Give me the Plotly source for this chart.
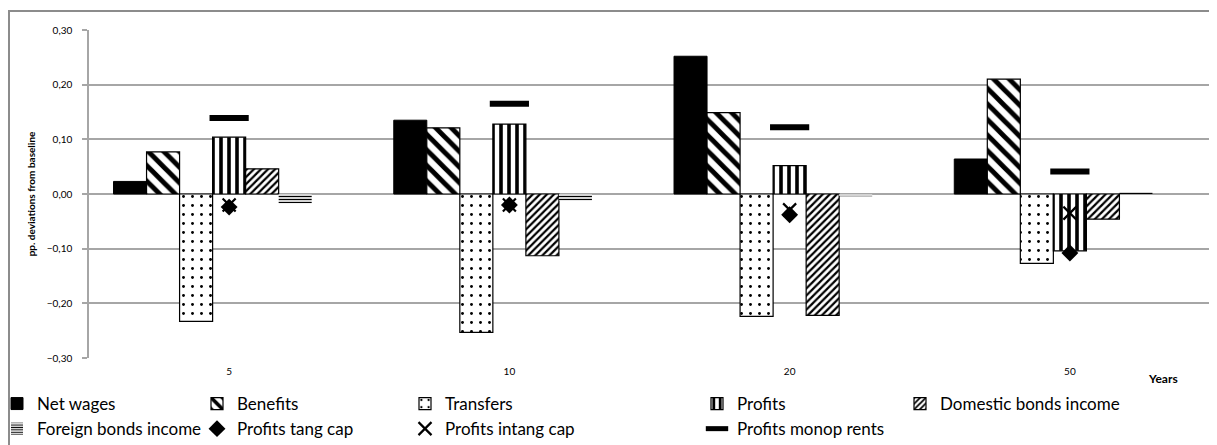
import plotly.graph_objects as go

# ---------------- data ----------------
years = ["5", "10", "20", "50"]
net_wages = [0.023, 0.135, 0.252, 0.064]
benefits = [0.077, 0.121, 0.149, 0.210]
transfers = [-0.233, -0.253, -0.224, -0.127]
profits = [0.104, 0.128, 0.052, -0.104]
domestic_bonds = [0.046, -0.113, -0.222, -0.046]
foreign_bonds = [-0.017, -0.012, -0.004, 0.002]
profits_tang_cap = [-0.024, -0.020, -0.038, -0.108]
profits_intang_cap = [-0.020, -0.020, -0.029, -0.035]
profits_monop_rents = [0.139, 0.165, 0.122, 0.041]

FONT = "Lato"
GRID = "#a6a6a6"

fig = go.Figure()

def pat_bar(name, y, shape, size, solidity, legend):
    return go.Bar(
        name=name, x=years, y=y, legend=legend,
        marker=dict(
            color="white",
            line=dict(color="black", width=1.2),
            pattern=dict(shape=shape, fgcolor="black", bgcolor="white",
                         size=size, solidity=solidity, fillmode="replace"),
        ),
    )

fig.add_trace(go.Bar(name="Net wages", x=years, y=net_wages, legend="legend",
                     marker=dict(color="black", line=dict(color="black", width=1))))
fig.add_trace(pat_bar("Benefits", benefits, "\\", 11, 0.45, "legend2"))
fig.add_trace(pat_bar("Transfers", transfers, ".", 9, 0.08, "legend3"))
fig.add_trace(pat_bar("Profits", profits, "|", 8, 0.45, "legend4"))
fig.add_trace(pat_bar("Domestic bonds income", domestic_bonds, "/", 5, 0.45, "legend5"))
fig.add_trace(go.Bar(
    name="Foreign bonds income", x=years, y=foreign_bonds, legend="legend",
    marker=dict(color="white", line=dict(color="black", width=0),
                pattern=dict(shape="-", fgcolor="black", bgcolor="white",
                             size=3, solidity=0.45, fillmode="replace")),
))
# empty 7th slot (as in the original chart's bar group)
fig.add_trace(go.Bar(name="", x=years, y=[0, 0, 0, 0], showlegend=False,
                     marker=dict(color="rgba(0,0,0,0)", line=dict(width=0)),
                     hoverinfo="skip"))

fig.add_trace(go.Scatter(name="Profits tang cap", x=years, y=profits_tang_cap,
                         mode="markers", legend="legend2",
                         marker=dict(symbol="diamond", size=13, color="black")))
fig.add_trace(go.Scatter(name="Profits intang cap", x=years, y=profits_intang_cap,
                         mode="markers", legend="legend3",
                         marker=dict(symbol="x-thin", size=13,
                                     line=dict(color="black", width=2.2), color="black")))
fig.add_trace(go.Scatter(name="Profits monop rents", x=years, y=profits_monop_rents,
                         mode="markers", legend="legend4",
                         marker=dict(symbol="line-ew", size=28,
                                     line=dict(color="black", width=6), color="black")))

# page offset of the plot div (browser body margin)
OFF = 8
W, H = 1217 - OFF, 445 - OFF
# plot area in screen pixels
PX0, PX1, PY0, PY1 = 89, 1210, 30, 358
L, R, T, B = PX0 - OFF, W - (PX1 - OFF), PY0 - OFF, H - (PY1 - OFF)
pw, ph = W - L - R, H - T - B

def px_x(p):
    return (p - OFF - L) / pw

def px_y(p):
    return (H - B - (p - OFF)) / ph

leg_common = dict(orientation="v", yanchor="top", xanchor="left",
                  font=dict(family=FONT, size=17, color="black"),
                  bgcolor="rgba(0,0,0,0)", itemwidth=30, tracegroupgap=0)
leg_y = px_y(386)
text_starts = [37, 237, 445, 737, 940]
layout_legs = {}
for i, ts in enumerate(text_starts):
    key = "legend" if i == 0 else f"legend{i+1}"
    layout_legs[key] = dict(leg_common, x=px_x(ts - 40), y=leg_y)

fig.update_layout(
    width=W, height=H,
    margin=dict(l=L, r=R, t=T, b=B, autoexpand=False),
    paper_bgcolor="white", plot_bgcolor="white",
    barmode="group", bargap=0.175, bargroupgap=0,
    separators=", ",
    font=dict(family=FONT, color="black"),
    **layout_legs,
)

fig.update_yaxes(
    range=[-0.30, 0.30], dtick=0.1, tickformat=".2f",
    showgrid=True, gridcolor=GRID, gridwidth=1.5,
    zeroline=True, zerolinecolor=GRID, zerolinewidth=1.5,
    showline=True, linecolor=GRID, linewidth=1.5,
    ticks="outside", ticklen=5, tickcolor=GRID, tickwidth=1.5,
    tickfont=dict(family=FONT, size=10, color="black"),
    ticklabelstandoff=8,
    title=dict(text="<b>pp. deviations from baseline</b>",
               font=dict(family=FONT, size=10, color="black"), standoff=9),
)
fig.update_xaxes(
    type="category", showgrid=False, showline=False, ticks="",
    tickfont=dict(family=FONT, size=10, color="black"),
    ticklabelstandoff=6,
)

fig.add_annotation(text="<b>Years</b>", xref="paper", yref="paper",
                   x=px_x(1163), y=px_y(378), showarrow=False,
                   font=dict(family=FONT, size=12, color="black"),
                   xanchor="center", yanchor="middle")

# outer chart frame
fig.add_shape(type="rect", xref="paper", yref="paper",
              x0=px_x(9), x1=px_x(1213), y0=px_y(452), y1=px_y(11),
              line=dict(color="#8c8c8c", width=2), layer="above")

fig.write_html("out.html")
